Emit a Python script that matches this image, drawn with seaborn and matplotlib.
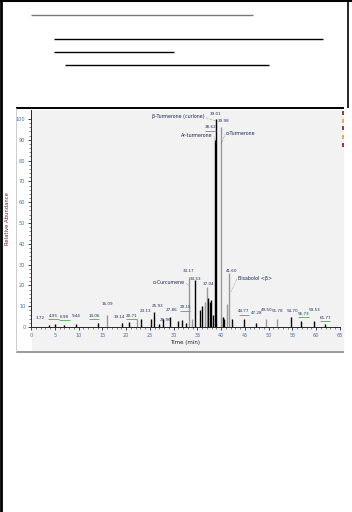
import numpy as np
import pandas as pd
import matplotlib
matplotlib.use("Agg")
import matplotlib.pyplot as plt
from matplotlib.lines import Line2D
from matplotlib.patches import Rectangle
import seaborn as sns

# peaks of the dark trace (retention time in min, relative abundance)
black_time = [3.72, 4.95, 6.98, 9.44, 14.06, 19.14, 20.71, 23.13, 25.25, 25.93, 26.96, 27.86,
              29.15, 31.0, 31.8, 32.5, 34.53, 35.6, 36.0, 37.3, 37.6, 37.9, 38.2, 38.62, 39.01,
              40.3, 40.7, 42.3, 44.77, 47.28, 54.70, 56.73, 59.53, 61.77]
black_height = [1.0, 1.5, 1.2, 1.5, 2.0, 2.0, 2.5, 4.0, 4.0, 7.0, 1.5, 4.0,
                5.0, 3.0, 3.5, 2.0, 22.5, 8.0, 10.0, 14.0, 12.0, 13.0, 6.0, 90.0, 100.0,
                5.0, 4.0, 4.0, 4.0, 2.0, 5.0, 3.0, 3.0, 1.5]

# peaks of the grey trace
grey_time = [16.09, 22.3, 33.17, 33.8, 36.5, 37.04, 39.98, 40.4, 41.2, 41.60, 49.50, 51.78]
grey_height = [6.0, 4.0, 24.0, 4.0, 12.0, 19.0, 96.0, 5.0, 11.0, 26.0, 4.0, 4.0]

# retention time labels written above the peaks
lab_text = ["3.72", "4.95", "6.98", "9.44", "14.06", "16.09", "19.14", "20.71", "23.13",
            "25.93", "26.96", "27.86", "29.15", "33.17", "34.53", "37.04", "38.62", "39.01",
            "39.98", "41.60", "44.77", "47.28", "49.50", "51.78", "54.70", "56.73", "59.53", "61.77"]
lab_time = [2.0, 4.7, 7.0, 9.5, 13.3, 16.1, 18.6, 21.1, 24.0,
            26.6, 28.3, 29.5, 32.4, 33.2, 34.7, 37.3, 37.8, 38.9,
            40.6, 42.2, 44.77, 47.4, 49.6, 51.9, 55.0, 57.3, 59.7, 61.9]
lab_y = [3.5, 4.5, 4.0, 4.5, 4.5, 10.0, 4.0, 4.5, 6.5,
         9.0, 2.5, 7.0, 8.5, 26.0, 22.0, 19.5, 95.0, 101.5,
         98.0, 26.0, 6.5, 6.0, 7.0, 6.5, 6.5, 5.5, 7.0, 3.5]
lab_underline = [0, 1, 1, 0, 1, 0, 0, 1, 0, 0, 0, 0, 1, 0, 0, 0, 1, 0,
                 0, 0, 1, 0, 0, 0, 0, 1, 0, 1]

# compound names: text, text position, peak it points to
cmp_name = ["β-Turmerone (curlone)", "Ar-turmerone", "α-Turmerone", "α-Curcumene", "Bisabolol <β>"]
cmp_x = [36.6, 38.3, 41.0, 32.4, 43.5]
cmp_y = [101.0, 92.0, 93.0, 21.5, 23.5]
cmp_px = [38.9, 39.0, 40.0, 33.1, 42.1]
cmp_py = [99.0, 88.0, 88.0, 20.0, 17.0]
cmp_ha = ["right", "right", "left", "right", "left"]

W, H = 352, 512
fig = plt.figure(figsize=(W / 100, H / 100), dpi=100)
sns.set_style("ticks")
plt.rcParams["font.family"] = ["DejaVu Sans"]


def fx(x):
    return x / W


def fy(y):
    return 1 - y / H


def pline(x0, y0, x1, y1, color, lw):
    fig.add_artist(Line2D([fx(x0), fx(x1)], [fy(y0), fy(y1)], color=color, lw=lw,
                          transform=fig.transFigure, solid_capstyle="butt"))


# page frame and text underlines
pline(1, 0, 1, 512, "black", 2.0)
pline(0, 0.5, 352, 0.5, "black", 1.5)
pline(348, 0, 348, 108, "black", 1.2)
pline(31, 15, 253, 15, "#777777", 1.0)
pline(54, 39, 323, 39, "black", 1.0)
pline(54, 52, 174, 52, "black", 1.0)
pline(65, 65, 269, 65, "black", 1.0)
pline(16, 108, 344, 108, "black", 1.4)
pline(16, 352, 344, 352, "#999999", 1.4)
pline(16, 108, 16, 352, "#cccccc", 0.7)

fig.add_artist(Rectangle((fx(32), fy(350)), fx(343) - fx(32), fy(110) - fy(350),
                         transform=fig.transFigure, color="#f2f2f2", zorder=0))
for yy, cc in [(113, "#7a1f1f"), (121, "#e0a040"), (128, "#7a1f1f"), (137, "#e0a040"), (145, "#7a1f1f")]:
    pline(343, yy - 2, 343, yy + 2, cc, 1.2)

ax = fig.add_axes([fx(31), fy(327), fx(340) - fx(31), fy(110) - fy(327)])
ax.set_facecolor("none")

ax.vlines(grey_time, 0, grey_height, color="#9a9a9a", lw=1.0)
ax.vlines(black_time, 0, black_height, color="black", lw=1.0)

for t, x, y, u in zip(lab_text, lab_time, lab_y, lab_underline):
    ax.text(x, y, t, fontsize=3.0, color="#23305e", ha="center", va="bottom")
    if u:
        ax.hlines(y - 0.6, x - 1.1, x + 1.1, color="#4caf50", lw=0.6)

for n, x, y, px, py, ha in zip(cmp_name, cmp_x, cmp_y, cmp_px, cmp_py, cmp_ha):
    ax.text(x, y, n, fontsize=3.4, color="#1d2a55", ha=ha, va="center")
    ax.plot([x + (0.2 if ha == "right" else -0.2), px], [y - 0.5, py], color="#555555",
            lw=0.4, ls=":")

ax.set_xlim(0, 65)
ax.set_ylim(0, 104.3)
ax.set_xticks(np.arange(0, 66, 5))
ax.set_xticks(np.arange(0, 66, 1), minor=True)
ax.set_yticks(np.arange(0, 101, 10))
ax.set_yticks(np.arange(0, 101, 2), minor=True)
ax.tick_params(axis="both", which="major", length=2.5, width=0.6, labelsize=3.6,
               labelcolor="#3d6fb0", pad=1.5)
ax.tick_params(axis="both", which="minor", length=1.2, width=0.4)
sns.despine(ax=ax)
ax.spines["left"].set_linewidth(0.7)
ax.spines["bottom"].set_linewidth(0.7)
ax.set_xlabel("Time (min)", fontsize=4, labelpad=2)
ax.set_ylabel("Relative Abundance", fontsize=3.8, color="#7a1f1f", labelpad=4)

fig.savefig("out.png", dpi=100)
